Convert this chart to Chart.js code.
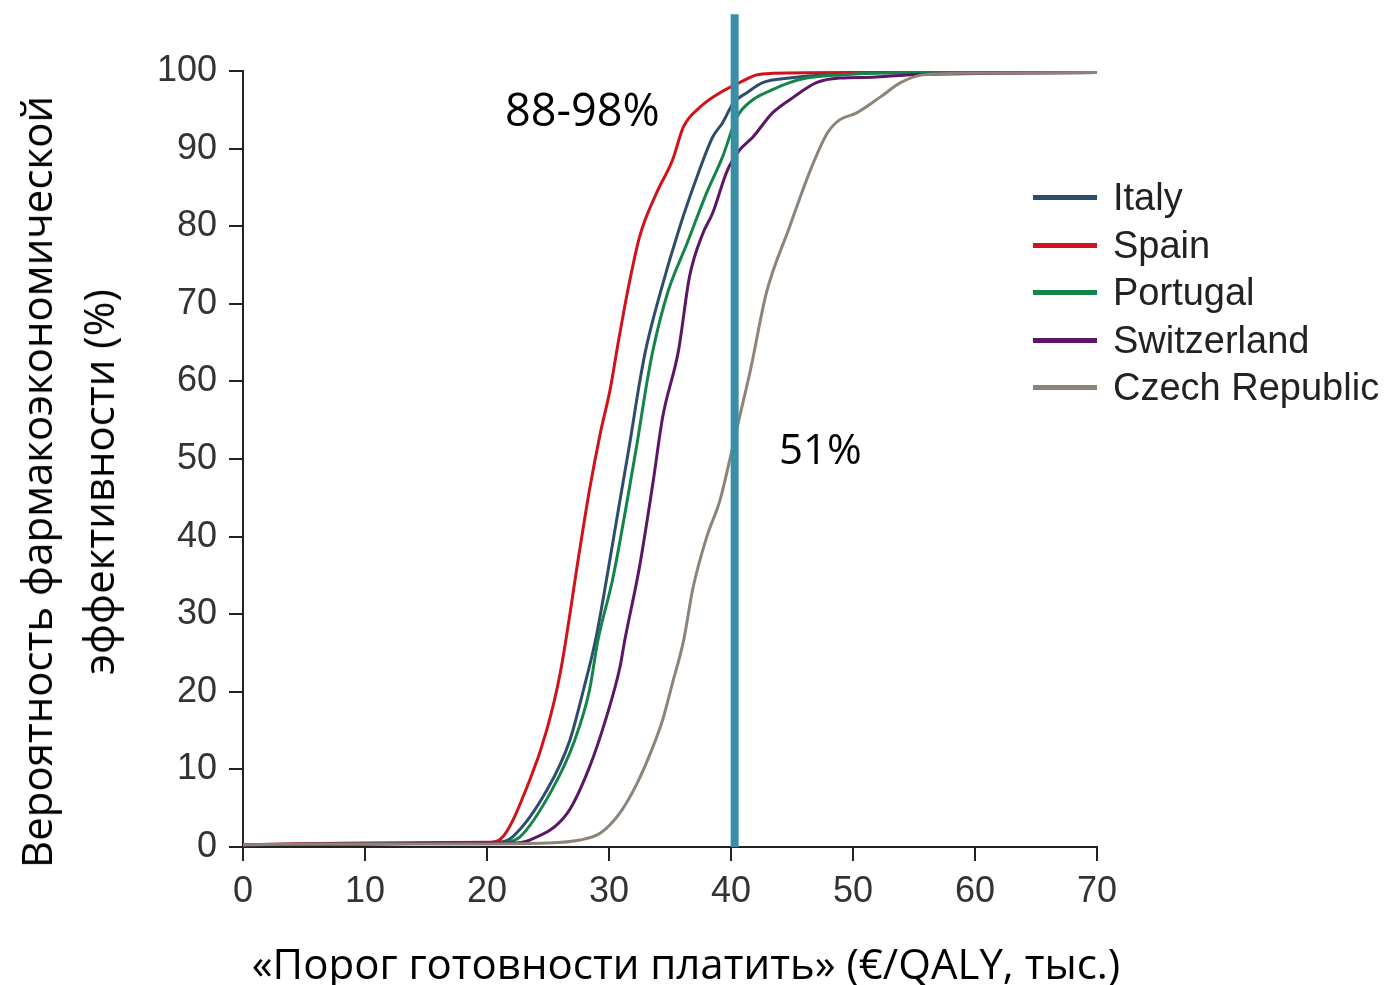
<!DOCTYPE html>
<html>
<head>
<meta charset="utf-8">
<script src="https://cdn.jsdelivr.net/npm/chart.js@4.4.1/dist/chart.umd.min.js"></script>
<style>
	html, body { margin: 0; padding: 0; background: #fff; }
	#wrap { position: relative; width: 1393px; height: 985px; }
	#chart { position: absolute; left: 0; top: 0; }
	.note { position: absolute; font-family: "Open Sans", sans-serif; color: #000; white-space: nowrap; line-height: 1; }
	#ytitle { position: absolute; left: 67px; top: 482px; transform: translate(-50%, -50%) rotate(-90deg);
		font-family: "Open Sans", sans-serif; font-size: 42px; line-height: 62px; text-align: center; white-space: nowrap; color: #000; }
	#xtitle { position: absolute; left: 686px; top: 962px; transform: translate(-50%, -50%);
		font-family: "Open Sans", sans-serif; font-size: 42px; white-space: nowrap; color: #000; }
	#legend { position: absolute; left: 1033px; top: 174px; font-family: "Liberation Sans", Arial, sans-serif; font-size: 38px; color: #222; }
	#legend .item { height: 47.5px; display: flex; align-items: center; }
	#legend .swatch { width: 64px; height: 5px; margin-right: 16px; }
</style>
</head>
<body>
<div id="wrap">
	<canvas id="chart" width="1393" height="985"></canvas>
	<div id="ytitle">Вероятность фармакоэкономической<br>эффективности (%)</div>
	<div id="xtitle">«Порог готовности платить» (€/QALY, тыс.)</div>
	<div class="note" style="left:505px; top:86px; font-size:45px;">88-98%</div>
	<div class="note" style="left:779px; top:427px; font-size:42px;">51%</div>
	<div id="legend"></div>
</div>
<script>
'use strict';

// x: threshold, thousand EUR/QALY; y: probability, %
const italyX = [0, 10, 20, 21.1, 22.1, 24.9, 26.8, 27.9, 28.9, 29.8, 30.9, 31.7, 32.5, 33.0, 34.2, 35.8, 37.2, 38.5, 39.3, 40.2, 41.3, 42.6, 44.8, 47.5, 55, 70];
const italyY = [0.3, 0.4, 0.5, 0.6, 1.3, 7.3, 13.8, 20.2, 26.7, 34.5, 44.7, 52.0, 59.8, 64.0, 71.4, 79.9, 86.3, 91.5, 93.3, 95.9, 97.2, 98.5, 99.1, 99.5, 99.8, 99.8];

const spainX = [0, 10, 20.2, 21.1, 23.5, 24.9, 26.0, 27.6, 28.4, 29.3, 30.1, 30.7, 31.5, 32.5, 33.9, 35.2, 36.1, 37.5, 39.1, 40.7, 42.1, 43.4, 50, 70];
const spainY = [0.3, 0.5, 0.6, 1.0, 8.6, 15.1, 22.4, 38.3, 46.0, 53.4, 59.0, 64.5, 71.4, 78.6, 84.3, 88.5, 92.8, 95.4, 97.2, 98.5, 99.5, 99.7, 99.8, 99.8];

const portugalX = [0, 10, 20, 21.5, 22.7, 25.3, 27.2, 28.4, 29.1, 30.3, 31.5, 32.3, 33.1, 33.6, 34.8, 36.4, 38.0, 39.3, 40.5, 41.8, 43.4, 44.8, 46.2, 48.9, 56, 70];
const portugalY = [0.3, 0.4, 0.5, 0.6, 1.3, 7.3, 13.8, 20.2, 26.7, 34.5, 44.7, 52.0, 59.8, 64.0, 71.4, 77.8, 84.3, 88.9, 94.1, 96.3, 97.6, 98.5, 99.1, 99.5, 99.8, 99.8];

const switzerlandX = [0, 10, 20, 21.9, 23.5, 26.6, 28.4, 29.8, 30.9, 31.3, 32.5, 33.6, 34.4, 35.7, 36.6, 37.7, 38.5, 39.7, 40.7, 41.8, 43.4, 45.1, 47.0, 48.9, 51.6, 54.4, 70];
const switzerlandY = [0.3, 0.4, 0.5, 0.5, 0.9, 4.4, 10.3, 16.8, 23.2, 26.7, 36.1, 46.9, 55.4, 64.0, 73.5, 79.1, 81.7, 87.2, 89.8, 91.5, 94.6, 96.6, 98.5, 99.1, 99.2, 99.5, 99.8];

const czechX = [0, 10, 20, 24.9, 27.6, 29.3, 30.9, 32.3, 33.6, 34.4, 35.2, 36.1, 36.9, 38.0, 39.1, 39.9, 40.7, 41.6, 42.9, 44.8, 46.5, 47.9, 48.9, 50.3, 52.2, 53.9, 55.7, 58.5, 70];
const czechY = [0.3, 0.4, 0.4, 0.5, 0.9, 1.8, 4.4, 8.2, 12.9, 16.4, 21.1, 26.5, 33.5, 39.9, 44.7, 49.9, 55.4, 61.5, 71.4, 79.9, 87.2, 92.0, 93.7, 94.6, 96.6, 98.5, 99.5, 99.7, 99.8];

// threshold marker line
const thresholdX = [40.3, 40.3];
const thresholdY = [0, 107.3];

const countries = ['Italy', 'Spain', 'Portugal', 'Switzerland', 'Czech Republic'];
const colors = ['#2e4d6e', '#d0121b', '#13854a', '#5b1766', '#8e8379'];
const seriesX = [italyX, spainX, portugalX, switzerlandX, czechX];
const seriesY = [italyY, spainY, portugalY, switzerlandY, czechY];

function toPoints(xs, ys) {
	let points = [];
	for (let i = 0; i < xs.length; i++) {
		points.push({x: xs[i], y: ys[i]});
	}
	return points;
}

function buildDatasets() {
	let datasets = [{
		label: 'threshold',
		data: toPoints(thresholdX, thresholdY),
		borderColor: '#3a8ea6',
		borderWidth: 8,
		pointRadius: 0,
		clip: false,
		order: 0
	}];

	for (let i = countries.length - 1; i >= 0; i--) {
		datasets.push({
			label: countries[i],
			data: toPoints(seriesX[i], seriesY[i]),
			borderColor: colors[i],
			borderWidth: 3,
			pointRadius: 0,
			cubicInterpolationMode: 'monotone',
			order: 1
		});
	}
	return datasets;
}

function buildLegend() {
	let legend = document.getElementById('legend');
	for (let i = 0; i < countries.length; i++) {
		let item = document.createElement('div');
		item.className = 'item';
		item.innerHTML = '<span class="swatch" style="background:' + colors[i] + '"></span>' + countries[i];
		legend.appendChild(item);
	}
}

const tickFont = {family: '"Liberation Sans", Arial, sans-serif', size: 36};

new Chart(document.getElementById('chart'), {
	type: 'line',
	data: {datasets: buildDatasets()},
	options: {
		responsive: false,
		animation: false,
		layout: {padding: {top: 71, right: 296, left: 0, bottom: 0}},
		plugins: {
			legend: {display: false},
			tooltip: {enabled: false}
		},
		scales: {
			x: {
				type: 'linear',
				min: 0,
				max: 70,
				afterFit: function (scale) { scale.height = 138; },
				ticks: {stepSize: 10, color: '#333', font: tickFont, padding: 9},
				grid: {drawOnChartArea: false, tickLength: 14, color: '#222', lineWidth: 2},
				border: {color: '#222', width: 2}
			},
			y: {
				min: 0,
				max: 100,
				afterFit: function (scale) { scale.width = 243; },
				ticks: {stepSize: 10, color: '#333', font: tickFont, padding: 12},
				grid: {drawOnChartArea: false, tickLength: 14, color: '#222', lineWidth: 2},
				border: {color: '#222', width: 2}
			}
		}
	}
});

buildLegend();
</script>
</body>
</html>
